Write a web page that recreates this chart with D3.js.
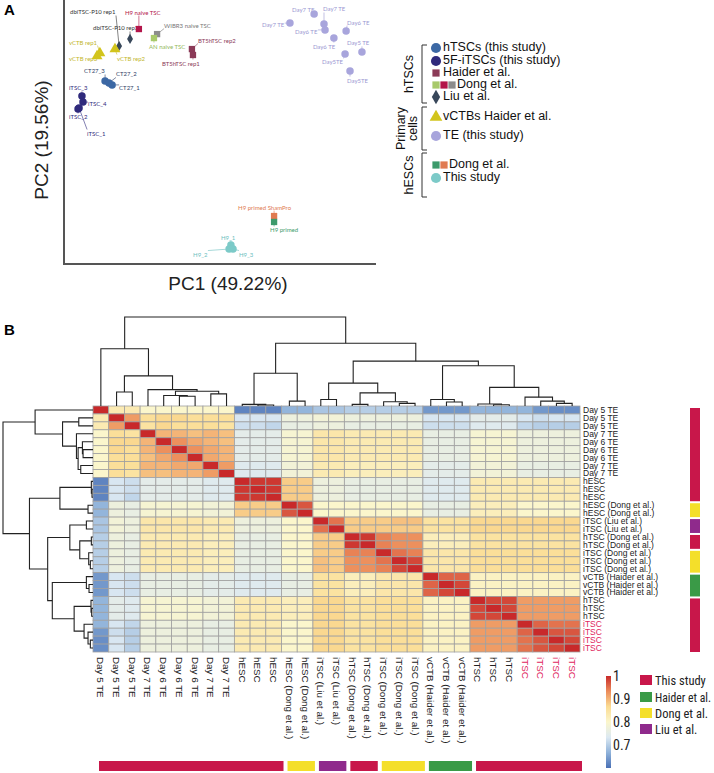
<!DOCTYPE html>
<html>
<head>
<meta charset="utf-8">
<script src="https://cdn.jsdelivr.net/npm/d3@7"></script>
<style>
  body { margin: 0; background: #fff; }
  svg { display: block; font-family: "Liberation Sans", Arial, sans-serif; }
</style>
</head>
<body>
<svg id="fig" width="714" height="773"></svg>
<script>
// ---------------- panel A data (PCA) ----------------
var pcaNames = ["dbiTSC-P10 rep1", "dbiTSC-P10 rep2", "H9 naive TSC", "WIBR3 naive TSC", "AN naive TSC",
  "BT5hTSC rep2", "BT5hTSC rep1", "vCTB rep1", "vCTB rep3", "vCTB rep2",
  "CT27_3", "CT27_2", "CT27_1", "iTSC_3", "iTSC_4", "iTSC_2", "iTSC_1",
  "Day7 TE", "Day7 TE", "Day7 TE", "Day6 TE", "Day6 TE", "Day6 TE", "Day5 TE", "Day5TE", "Day5TE",
  "H9 primed ShamPro", "H9 primed", "H9_1", "H9_2", "H9_3"];
var pcaGroups = ["liu", "liu", "h9naive", "wibr3", "an", "bt5", "bt5", "vctb", "vctb", "vctb",
  "ct27", "ct27", "ct27", "itsc", "itsc", "itsc", "itsc",
  "te", "te", "te", "te", "te", "te", "te", "te", "te",
  "sham", "primed", "h9", "h9", "h9"];
var pc1 = [-18.8, -14.6, -11.2, -4.2, -5.4, 9.2, 9.6, -26.2, -27.3, -20.4,
  -24.2, -22.7, -21.5, -33.1, -32.7, -34.6, -34.2,
  46.9, 56.2, 60.0, 68.5, 60.4, 63.8, 74.6, 68.1, 70.0,
  40.8, 40.8, 24.2, 23.5, 25.0];
var pc2 = [39.1, 42.3, 46.8, 44.5, 42.7, 37.7, 35.0, 35.9, 34.5, 37.7,
  23.2, 22.3, 21.4, 16.4, 13.6, 10.5, 10.9,
  49.5, 53.6, 49.1, 45.9, 46.4, 42.7, 36.4, 35.5, 27.7,
  -38.2, -40.9, -51.4, -53.2, -53.2];
// label placement relative to each point (layout only)
var labelDx = [-49, -37, -14, 7, -5, 6, -31, -31, -28, 2, -21, 7, 7, -13, 5, -9, 8,
  -28, -22, -1, 1, -30, -21, -15, -23, -3, -36, -4, -10, -36, 6];
var labelDy = [-33, -10, -16, -8, 9, -8, 9, -10, 3, 10, -9, -8, 4, -7, 2, 9, 26,
  2, -4, -14, -8, 3, 9, -8, 9, 10, -8, 9, -7, 6, 6];

var groupStyle = {
  liu:     {shape: "diamond",  fill: "#38475a", text: "#333333"},
  h9naive: {shape: "square",   fill: "#b3154a", text: "#b3154a"},
  wibr3:   {shape: "square",   fill: "#8c8c8c", text: "#777777"},
  an:      {shape: "square",   fill: "#a8c96a", text: "#93b85a"},
  bt5:     {shape: "square",   fill: "#8b3a57", text: "#8b3a57"},
  vctb:    {shape: "triangle", fill: "#d2c41c", text: "#c2b62a"},
  ct27:    {shape: "circle",   fill: "#3c68a4", text: "#2f3e66"},
  itsc:    {shape: "circle",   fill: "#2f2a7c", text: "#2f2a7c"},
  te:      {shape: "circle",   fill: "#a8a5dc", text: "#9a97d2"},
  sham:    {shape: "square",   fill: "#e07a50", text: "#e07a50"},
  primed:  {shape: "square",   fill: "#3c9a6b", text: "#3c9a6b"},
  h9:      {shape: "circle",   fill: "#7ccac8", text: "#6cc0c0"}
};

// panel A legend
var legendTexts = ["hTSCs (this study)", "5F-iTSCs (this study)", "Haider et al.", "Dong et al.", "Liu et al.",
  "vCTBs Haider et al.", "TE (this study)", "Dong et al.", "This study"];
var legendMarks = [["ct27"], ["itsc"], ["bt5"], ["an", "h9naive", "wibr3"], ["liu"],
  ["vctb"], ["te"], ["primed", "sham"], ["h9"]];
var legendSections = [["hTSCs"], ["Primary", "cells"], ["hESCs"]];
var legendSectionItems = [[0, 1, 2, 3, 4], [5, 6], [7, 8]];

// ---------------- panel B data (correlation heatmap) ----------------
var sampleLabels = ["Day 5 TE", "Day 5 TE", "Day 5 TE", "Day 7 TE", "Day 6 TE", "Day 6 TE", "Day 6 TE", "Day 7 TE", "Day 7 TE",
  "hESC", "hESC", "hESC", "hESC (Dong et al.)", "hESC (Dong et al.)", "iTSC (Liu et al.)", "iTSC (Liu et al.)",
  "hTSC (Dong et al.)", "hTSC (Dong et al.)", "iTSC (Dong et al.)", "iTSC (Dong et al.)", "iTSC (Dong et al.)",
  "vCTB (Haider et al.)", "vCTB (Haider et al.)", "vCTB (Haider et al.)", "hTSC", "hTSC", "hTSC",
  "iTSC", "iTSC", "iTSC", "iTSC"];
var sampleHighlight = [0,0,0,0,0,0,0,0,0, 0,0,0,0,0,0,0, 0,0,0,0,0, 0,0,0,0,0,0, 1,1,1,1];
var sampleSource = ["This study", "This study", "This study", "This study", "This study", "This study", "This study", "This study", "This study",
  "This study", "This study", "This study", "Dong et al.", "Dong et al.", "Liu et al.", "Liu et al.",
  "This study", "This study", "Dong et al.", "Dong et al.", "Dong et al.",
  "Haider et al.", "Haider et al.", "Haider et al.", "This study", "This study", "This study",
  "This study", "This study", "This study", "This study"];
var sources = ["This study", "Haider et al.", "Dong et al.", "Liu et al."];
var sourceColors = ["#c8174a", "#3a9a47", "#f4df2a", "#8f2a8c"];

// Pearson correlation x100, lower triangle (row i holds columns 0..i)
var corrLower = [
  [100],
  [83, 100],
  [83, 92, 100],
  [80, 86, 85, 100],
  [80, 87, 87, 90, 100],
  [80, 87, 86, 90, 93, 100],
  [80, 86, 86, 89, 91, 93, 100],
  [80, 86, 86, 90, 90, 91, 91, 100],
  [80, 86, 85, 89, 89, 90, 90, 92, 100],
  [62, 73, 72, 75, 75, 75, 75, 74, 74, 100],
  [62, 73, 72, 75, 75, 75, 75, 74, 74, 99, 100],
  [62, 73, 71, 75, 75, 75, 75, 74, 74, 99, 99, 100],
  [67, 77, 76, 79, 79, 79, 79, 78, 78, 88, 88, 88, 100],
  [67, 77, 76, 79, 79, 79, 79, 78, 78, 88, 88, 88, 97, 100],
  [69, 78, 77, 84, 84, 84, 84, 83, 83, 77, 77, 77, 80, 80, 100],
  [69, 78, 77, 84, 84, 84, 84, 83, 83, 77, 77, 77, 80, 80, 95, 100],
  [70, 77, 76, 83, 83, 83, 83, 82, 82, 76, 76, 76, 80, 80, 88, 88, 100],
  [70, 77, 76, 83, 83, 83, 83, 82, 82, 76, 76, 76, 80, 80, 88, 88, 99, 100],
  [70, 77, 76, 83, 83, 83, 83, 82, 82, 76, 76, 76, 80, 80, 88, 88, 94, 94, 100],
  [70, 77, 76, 83, 83, 83, 83, 82, 82, 76, 76, 76, 80, 80, 89, 88, 93, 93, 95, 100],
  [70, 77, 76, 83, 83, 83, 83, 82, 82, 76, 76, 76, 80, 80, 89, 88, 93, 93, 94, 98, 100],
  [64, 73, 72, 76, 76, 76, 76, 75, 75, 74, 74, 74, 76, 76, 85, 85, 82, 82, 84, 84, 84, 100],
  [64, 73, 72, 76, 76, 76, 76, 75, 75, 74, 74, 74, 76, 76, 85, 85, 82, 82, 84, 84, 84, 96, 100],
  [64, 73, 72, 76, 76, 76, 76, 75, 75, 74, 74, 74, 76, 76, 85, 85, 82, 82, 84, 84, 84, 96, 98, 100],
  [67, 75, 74, 79, 79, 79, 79, 78, 78, 83, 83, 83, 82, 82, 87, 87, 85, 85, 86, 86, 86, 81, 81, 81, 100],
  [67, 75, 74, 79, 79, 79, 79, 78, 78, 83, 83, 83, 82, 82, 87, 87, 85, 85, 86, 86, 86, 81, 81, 81, 98, 100],
  [67, 75, 74, 79, 79, 79, 79, 78, 78, 83, 83, 83, 82, 82, 87, 87, 85, 85, 86, 86, 86, 81, 81, 81, 98, 98, 100],
  [67, 73, 71, 77, 77, 77, 77, 76, 76, 83, 83, 83, 80, 80, 87, 87, 85, 85, 86, 86, 86, 81, 81, 81, 92, 92, 92, 100],
  [64, 72, 70, 77, 77, 77, 77, 76, 76, 83, 83, 83, 80, 80, 87, 87, 85, 85, 86, 86, 86, 81, 81, 81, 92, 92, 92, 96, 100],
  [63, 73, 70, 77, 77, 77, 77, 76, 76, 83, 83, 83, 80, 80, 87, 87, 85, 85, 86, 86, 86, 81, 81, 81, 92, 92, 92, 95, 97, 100],
  [63, 73, 70, 77, 77, 77, 77, 76, 76, 83, 83, 83, 80, 80, 87, 87, 85, 85, 86, 86, 86, 81, 81, 81, 92, 92, 92, 95, 97, 98, 100]
];

// clustering tree: [height, left, right]; leaves are sample indices
var sampleTree = [272,
  [175, 0, [92, [43, 1, 2], [50, 3, [45, [32, 4, [30, 5, 6]], [37, 7, 8]]]]],
  [192,
    [100, [5, 9, [3, 10, 11]], [15, 12, 13]],
    [137,
      [70, [20, 14, 15], [40, [5, 16, 17], [13, 18, [8, 19, 20]]]],
      [123, [20, 21, [12, 22, 23]], [57, [6, 24, [4, 25, 26]], [27, 27, [15, 28, [8, 29, 30]]]]]]]];

var heatColors = ["#4a70b5", "#8fb2da", "#dce9f2", "#fbf6cc", "#fbdc93", "#ec8c5a", "#c8292a"];
var colorDomain = [0.6, 1.0];
var legendTicks = [0.7, 0.8, 0.9, 1];

// ---------------- drawing ----------------
var narrow = "'Liberation Sans Narrow', 'Roboto Condensed', 'Liberation Sans', Arial, sans-serif";
var svg = d3.select("#fig");

svg.append("text").attr("x", 4).attr("y", 15).attr("font-size", 15).attr("font-weight", "bold").text("A");
svg.append("text").attr("x", 4).attr("y", 335).attr("font-size", 15).attr("font-weight", "bold").text("B");

// ---- panel A scatter
var xPC = d3.scaleLinear().domain([-40, 80]).range([64, 376]);
var yPC = d3.scaleLinear().domain([-60, 60]).range([264, 0]);

var pca = svg.append("g");
pca.append("path").attr("d", "M64,0V264H376").attr("fill", "none").attr("stroke", "#555").attr("stroke-width", 2);
pca.append("text").attr("x", 228).attr("y", 290).attr("text-anchor", "middle").attr("font-size", 19)
  .attr("fill", "#222").text("PC1 (49.22%)");
pca.append("text").attr("transform", "translate(48,140) rotate(-90)").attr("text-anchor", "middle")
  .attr("font-size", 19).attr("fill", "#222").text("PC2 (19.56%)");

function markerPath(shape, size) {
  var sym = shape === "circle" ? d3.symbolCircle : shape === "triangle" ? d3.symbolTriangle :
    shape === "diamond" ? d3.symbolDiamond : d3.symbolSquare;
  return d3.symbol().type(sym).size(size)();
}
var markerSize = {circle: 44, square: 40, diamond: 30, triangle: 52};

var pts = pcaNames.map(function(n, i) {
  return {name: n, g: pcaGroups[i], x: xPC(pc1[i]), y: yPC(pc2[i]), dx: labelDx[i], dy: labelDy[i]};
});

var lblG = pca.append("g").attr("font-family", "Lato, 'DejaVu Sans', sans-serif").attr("font-size", 6);
pts.forEach(function(p) {
  var st = groupStyle[p.g];
  var t = lblG.append("text").attr("x", p.x + p.dx).attr("y", p.y + p.dy)
    .attr("dominant-baseline", "middle").attr("fill", st.text).text(p.name);
  var b = t.node().getBBox();
  var cx = Math.max(b.x, Math.min(b.x + b.width, p.x));
  var cy = Math.max(b.y, Math.min(b.y + b.height, p.y));
  var d = Math.hypot(cx - p.x, cy - p.y);
  if (d > 4) {
    lblG.append("line").attr("x1", cx).attr("y1", cy).attr("x2", p.x).attr("y2", p.y)
      .attr("stroke", st.text).attr("stroke-width", 0.6);
  }
});
pca.append("g").selectAll("path").data(pts).enter().append("path")
  .attr("transform", function(d) { return "translate(" + d.x + "," + d.y + ")"; })
  .attr("d", function(d) { var s = groupStyle[d.g].shape; return markerPath(s, markerSize[s]); })
  .attr("fill", function(d) { return groupStyle[d.g].fill; });

// ---- panel A legend
var legY = [48, 61, 73, 85, 97, 117, 136, 165, 178];
var secY = [[45, 103], [107, 150], [153, 197]];
var leg = svg.append("g").attr("font-size", 12.5).attr("fill", "#111");
legendSections.forEach(function(title, s) {
  var y0 = secY[s][0], y1 = secY[s][1];
  leg.append("path").attr("d", "M427," + y0 + "H422V" + y1 + "H427")
    .attr("fill", "none").attr("stroke", "#333").attr("stroke-width", 1);
  var mid = (y0 + y1) / 2;
  title.forEach(function(line, k) {
    var xx = title.length === 1 ? 413 : 405 + k * 12;
    leg.append("text").attr("transform", "translate(" + xx + "," + mid + ") rotate(-90)")
      .attr("text-anchor", "middle").attr("font-size", 12.5).text(line);
  });
  legendSectionItems[s].forEach(function(i) {
    var marks = legendMarks[i];
    marks.forEach(function(g, k) {
      var st = groupStyle[g];
      var sz = st.shape === "circle" ? 80 : st.shape === "triangle" ? 70 : st.shape === "diamond" ? 60 : 52;
      leg.append("path").attr("transform", "translate(" + (436 + k * 8) + "," + legY[i] + ")")
        .attr("d", markerPath(st.shape, sz)).attr("fill", st.fill);
    });
    leg.append("text").attr("x", 443 + (marks.length - 1) * 8 - (marks.length > 1 ? 2 : 0)).attr("y", legY[i])
      .attr("dominant-baseline", "middle").text(legendTexts[i]);
  });
});

// ---- panel B heatmap
var n = sampleLabels.length;
var idx = d3.range(n);
var xB = d3.scaleBand().domain(idx).range([93, 580]);
var yB = d3.scaleBand().domain(idx).range([406, 652]);
var color = d3.scaleLinear()
  .domain(heatColors.map(function(c, i) { return colorDomain[0] + i * (colorDomain[1] - colorDomain[0]) / (heatColors.length - 1); }))
  .range(heatColors).clamp(true);
function corr(i, j) { return (i >= j ? corrLower[i][j] : corrLower[j][i]) / 100; }

var cells = [];
idx.forEach(function(i) { idx.forEach(function(j) { cells.push({r: i, c: j, v: corr(i, j)}); }); });
svg.append("g").selectAll("rect").data(cells).enter().append("rect")
  .attr("x", function(d) { return xB(d.c); }).attr("y", function(d) { return yB(d.r); })
  .attr("width", xB.bandwidth()).attr("height", yB.bandwidth())
  .attr("fill", function(d) { return color(d.v); })
  .attr("stroke", "#a0a0a0").attr("stroke-width", 0.8);

// row labels
svg.append("g").attr("font-size", 8.5).selectAll("text").data(idx).enter().append("text")
  .attr("x", 583).attr("y", function(i) { return yB(i) + yB.bandwidth() / 2; })
  .attr("dominant-baseline", "central")
  .attr("fill", function(i) { return sampleHighlight[i] ? "#e0245e" : "#222"; })
  .text(function(i) { return sampleLabels[i]; });
// column labels
svg.append("g").attr("font-size", 9.8).selectAll("text").data(idx).enter().append("text")
  .attr("transform", function(i) { return "translate(" + (xB(i) + xB.bandwidth() / 2) + ",657) rotate(90)"; })
  .attr("dominant-baseline", "central")
  .attr("fill", function(i) { return sampleHighlight[i] ? "#e0245e" : "#222"; })
  .text(function(i) { return sampleLabels[i]; });

// dendrograms
var root = d3.hierarchy(sampleTree, function(d) { return Array.isArray(d) ? d.slice(1) : null; });
root.eachAfter(function(nd) {
  if (!nd.children) { nd.pos = nd.data; nd.h = 0; }
  else { nd.pos = (nd.children[0].pos + nd.children[1].pos) / 2; nd.h = nd.data[0]; }
});
function centerX(p) { return xB(0) + (p + 0.5) * xB.bandwidth(); }
function centerY(p) { return yB(0) + (p + 0.5) * yB.bandwidth(); }
var hTop = d3.scaleLinear().domain([0, 272]).range([406, 317]);
var hLeft = d3.scaleLinear().domain([0, 272]).range([93, 3]);
var internal = root.descendants().filter(function(d) { return d.children; });
svg.append("g").selectAll("path").data(internal).enter().append("path")
  .attr("d", function(d) {
    var a = d.children[0], b = d.children[1];
    return "M" + centerX(a.pos) + "," + hTop(a.h) + "V" + hTop(d.h) + "H" + centerX(b.pos) + "V" + hTop(b.h);
  })
  .attr("fill", "none").attr("stroke", "#222").attr("stroke-width", 1.1);
svg.append("g").selectAll("path").data(internal).enter().append("path")
  .attr("d", function(d) {
    var a = d.children[0], b = d.children[1];
    return "M" + hLeft(a.h) + "," + centerY(a.pos) + "H" + hLeft(d.h) + "V" + centerY(b.pos) + "H" + hLeft(b.h);
  })
  .attr("fill", "none").attr("stroke", "#222").attr("stroke-width", 1.1);

// source annotation bars
var runs = [];
sampleSource.forEach(function(s, i) {
  if (runs.length && runs[runs.length - 1].s === s) runs[runs.length - 1].end = i;
  else runs.push({s: s, start: i, end: i});
});
function srcColor(s) { return sourceColors[sources.indexOf(s)]; }
svg.append("g").selectAll("rect").data(runs).enter().append("rect")
  .attr("x", 690).attr("width", 10)
  .attr("y", function(d) { return yB(d.start) + 2; })
  .attr("height", function(d) { return yB(d.end) + yB.bandwidth() - yB(d.start) - 2; })
  .attr("fill", function(d) { return srcColor(d.s); });
svg.append("g").selectAll("rect").data(runs).enter().append("rect")
  .attr("y", 761).attr("height", 10)
  .attr("x", function(d) { return xB(d.start) + 6; })
  .attr("width", function(d) { return xB(d.end) + xB.bandwidth() - xB(d.start) - 4; })
  .attr("fill", function(d) { return srcColor(d.s); });

// colour bar legend
var cbY = d3.scaleLinear().domain(colorDomain).range([768, 676]);
var grad = svg.append("defs").append("linearGradient").attr("id", "cbar")
  .attr("x1", 0).attr("y1", 1).attr("x2", 0).attr("y2", 0);
heatColors.forEach(function(c, i) {
  grad.append("stop").attr("offset", i / (heatColors.length - 1)).attr("stop-color", c);
});
svg.append("rect").attr("x", 606).attr("y", cbY(1)).attr("width", 5).attr("height", cbY(0.6) - cbY(1))
  .attr("fill", "url(#cbar)");
svg.append("g").attr("font-size", 14).attr("font-family", narrow).attr("fill", "#222")
  .selectAll("text").data(legendTicks).enter().append("text")
  .attr("x", 613).attr("y", function(v) { return cbY(v); }).attr("dominant-baseline", "central")
  .text(function(v) { return v === 1 ? "1" : v.toFixed(1); });

// source legend
var srcLegY = [680, 697, 713, 729];
var sl = svg.append("g").attr("font-size", 12.5).attr("font-family", narrow).attr("fill", "#222");
sources.forEach(function(s, i) {
  sl.append("rect").attr("x", 640).attr("y", srcLegY[i] - 5).attr("width", 12).attr("height", 10).attr("fill", sourceColors[i]);
  var t = sl.append("text").attr("x", 655).attr("y", srcLegY[i]).attr("dominant-baseline", "central").text(s);
  if (t.node().getComputedTextLength() > 56) {
    t.attr("textLength", 56).attr("lengthAdjust", "spacingAndGlyphs");
  }
});
</script>
</body>
</html>
